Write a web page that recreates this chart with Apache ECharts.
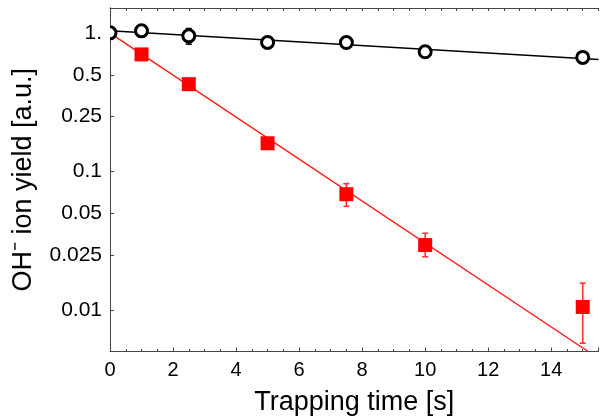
<!DOCTYPE html>
<html><head><meta charset="utf-8">
<script src="https://cdn.jsdelivr.net/npm/echarts@6/dist/echarts.min.js"></script>
<style>html,body{margin:0;padding:0;background:#fff}#c{width:602px;height:420px}</style>
</head><body><div id="c"></div>
<script>
// ---- data ----
const xTickLabels = [0, 2, 4, 6, 8, 10, 12, 14];
const yTickValues = [0.01, 0.025, 0.05, 0.1, 0.25, 0.5, 1];
const yTickLabels = ['0.01', '0.025', '0.05', '0.1', '0.25', '0.5', '1.'];

const neutralTime = [0, 1, 2.5, 5, 7.5, 10, 15];
const neutralYield = [1.005, 1.039, 0.956, 0.857, 0.855, 0.733, 0.668];
const neutralErrTime = [2.5];
const neutralErrLow = [0.833];
const neutralErrHigh = [1.08];

const anionTime = [1, 2.5, 5, 7.5, 10, 15];
const anionYield = [0.702, 0.428, 0.16, 0.0685, 0.0294, 0.0105];
const anionErrTime = [7.5, 10, 15];
const anionErrLow = [0.056, 0.0242, 0.00574];
const anionErrHigh = [0.0817, 0.0358, 0.0156];

const neutralFitTime = [0, 15.5];
const neutralFitYield = [1.042, 0.646];
const anionFitTime = [0, 15.17];
const anionFitYield = [1.0, 0.005];

// ---- chart ----
const FONT = '"Liberation Sans", Arial, sans-serif';
const AX = '#444';
const zip = (a, b) => a.map((v, i) => [v, b[i]]);
const zip3 = (a, b, c) => a.map((v, i) => [v, b[i], c[i]]);

function errRender(color) {
  return function (params, api) {
    const x = api.value(0), lo = api.value(1), hi = api.value(2);
    const pLo = api.coord([x, lo]), pHi = api.coord([x, hi]);
    const w = 3;
    const style = { stroke: color, lineWidth: 1.6, fill: null };
    return {
      type: 'group', children: [
        { type: 'line', shape: { x1: pLo[0], y1: pLo[1], x2: pHi[0], y2: pHi[1] }, style },
        { type: 'line', shape: { x1: pLo[0] - w, y1: pLo[1], x2: pLo[0] + w, y2: pLo[1] }, style },
        { type: 'line', shape: { x1: pHi[0] - w, y1: pHi[1], x2: pHi[0] + w, y2: pHi[1] }, style }
      ]
    };
  };
}

const chart = echarts.init(document.getElementById('c'), null, { renderer: 'canvas' });
chart.setOption({
  animation: false,
  backgroundColor: '#fff',
  textStyle: { fontFamily: FONT },
  grid: { left: 110, right: 3.5, top: 8, bottom: 68.5, containLabel: false, outerBoundsMode: 'none' },
  xAxis: [{
    type: 'value', min: 0, max: 15.5, interval: 2, position: 'bottom',
    name: 'Trapping time [s]', nameLocation: 'middle', nameGap: 38,
    nameTextStyle: { fontSize: 27, color: '#000', fontFamily: FONT },
    axisLine: { show: true, lineStyle: { color: AX, width: 1 } },
    axisTick: { show: true, inside: true, length: 4, lineStyle: { color: AX } },
    minorTick: { show: true, splitNumber: 4, length: 2.5, lineStyle: { color: AX } },
    axisLabel: {
      fontSize: 20, color: '#000', margin: 9, fontFamily: FONT,
      formatter: v => (xTickLabels.indexOf(v) >= 0 ? String(v) : '')
    },
    splitLine: { show: false }
  }, {
    type: 'value', min: 0, max: 15.5, interval: 0.5, position: 'top',
    axisLine: { show: true, lineStyle: { color: AX, width: 1 } },
    axisTick: { show: true, inside: true, length: 3, lineStyle: { color: AX } },
    axisLabel: { show: false },
    splitLine: { show: false }
  }],
  yAxis: [{
    type: 'log', logBase: 10, min: 0.005, max: 1.52, position: 'left',
    name: 'OH\u207B ion yield [a.u.]', nameLocation: 'middle', nameGap: 73,
    nameTextStyle: { fontSize: 27, color: '#000', fontFamily: FONT },
    axisLine: { show: true, lineStyle: { color: AX, width: 1 } },
    axisTick: { show: true, inside: true, length: 4, customValues: yTickValues, lineStyle: { color: AX } },
    axisLabel: {
      fontSize: 21, color: '#000', margin: 8, fontFamily: FONT, customValues: yTickValues,
      formatter: v => {
        for (let i = 0; i < yTickValues.length; i++) if (Math.abs(v - yTickValues[i]) / yTickValues[i] < 1e-6) return yTickLabels[i];
        return '';
      }
    },
    splitLine: { show: false }
  }, {
    type: 'value', min: 0, max: 1, position: 'right',
    axisLine: { show: true, lineStyle: { color: AX, width: 1 } },
    axisTick: { show: false }, axisLabel: { show: false }, splitLine: { show: false }
  }],
  series: [
    {
      type: 'line', data: zip(anionFitTime, anionFitYield), showSymbol: false, symbol: 'none',
      lineStyle: { color: '#ff1a1a', width: 1.5 }, z: 2, silent: true
    },
    {
      type: 'line', data: zip(neutralFitTime, neutralFitYield), showSymbol: false, symbol: 'none',
      lineStyle: { color: '#000', width: 1.5 }, z: 2, silent: true
    },
    {
      type: 'custom', data: zip3(anionErrTime, anionErrLow, anionErrHigh),
      renderItem: errRender('#ff3333'), encode: { x: 0, y: [1, 2] }, z: 3
    },
    {
      type: 'custom', data: zip3(neutralErrTime, neutralErrLow, neutralErrHigh),
      renderItem: errRender('#000'), encode: { x: 0, y: [1, 2] }, z: 3
    },
    {
      type: 'scatter', data: zip(anionTime, anionYield), symbol: 'rect', symbolSize: 14,
      itemStyle: { color: '#ff0000', opacity: 1 }, z: 4
    },
    {
      type: 'scatter', data: zip(neutralTime, neutralYield), symbol: 'circle', symbolSize: 12,
      itemStyle: { color: '#fff', borderColor: '#000', borderWidth: 3, opacity: 1 }, z: 5
    }
  ]
});

// white mask clipping marker parts that fall outside the plotting frame (left edge)
const p0 = chart.convertToPixel({ xAxisIndex: 0, yAxisIndex: 0 }, [neutralTime[0], neutralYield[0]]);
chart.setOption({
  graphic: [{
    type: 'rect', z: 100, silent: true,
    shape: { x: p0[0] - 9, y: p0[1] - 9, width: 9, height: 18 },
    style: { fill: '#fff' }
  }]
});
</script>
</body></html>
